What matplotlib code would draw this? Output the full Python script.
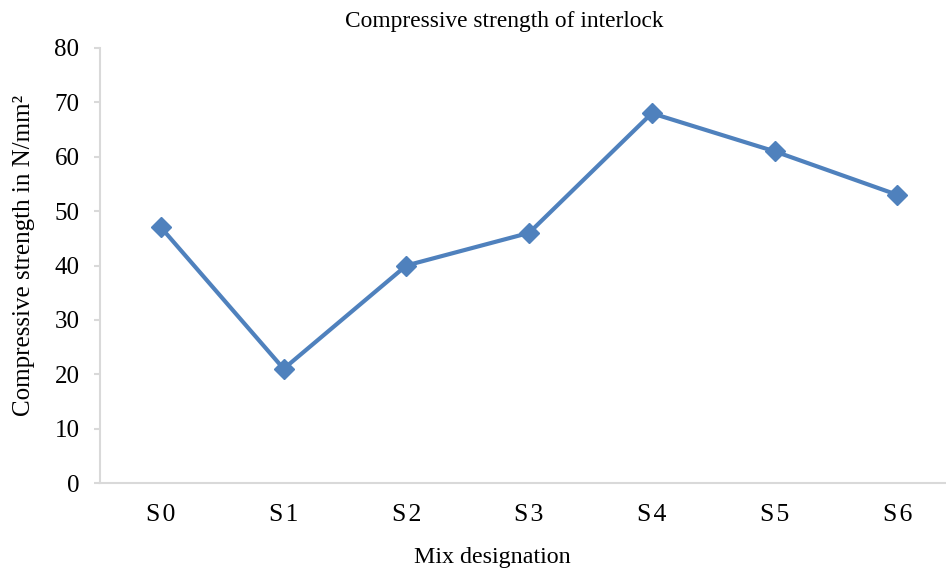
import matplotlib
matplotlib.use('Agg')
import matplotlib.pyplot as plt

# Mix designations and measured compressive strength (N/mm2)
mixes = ['S\u200a0', 'S\u200a1', 'S\u200a2', 'S\u200a3', 'S\u200a4', 'S\u200a5', 'S\u200a6']
strength = [47, 21, 40, 46, 68, 61, 53]

plt.rcParams['font.family'] = ['Liberation Serif', 'DejaVu Serif']

fig = plt.figure(figsize=(9.46, 5.74), dpi=100)
# plot area runs past the right edge of the figure
ax = fig.add_axes([99.6 / 946, 1 - 483 / 574, 859 / 946, 435 / 574])

x = range(len(mixes))
ax.plot(x, strength, color='#4F81BD', linewidth=3, marker='D', markersize=10.5,
        markeredgecolor='#4F81BD', markerfacecolor='#4F81BD')

ax.set_xlim(-0.5, len(mixes) - 0.5)
ax.set_ylim(0, 80)
ax.set_yticks(range(0, 81, 10))
ax.set_xticks(list(x))
ax.set_xticklabels(mixes)

for side in ['top', 'right']:
    ax.spines[side].set_visible(False)
for side in ['left', 'bottom']:
    ax.spines[side].set_color('#D9D9D9')
    ax.spines[side].set_linewidth(1.5)

ax.tick_params(axis='y', direction='out', length=4.5, width=1.5, color='#D9D9D9',
               labelsize=18, pad=10)
ax.tick_params(axis='x', length=0, labelsize=18.5, pad=15)

ax.set_ylabel('Compressive strength in N/mm²', fontsize=18)
ax.yaxis.set_label_coords(-0.075, 0.524)
ax.set_xlabel('Mix designation', fontsize=17.3)
ax.xaxis.set_label_coords(0.457, -0.147)
fig.text(504 / 946, 1 - 21 / 574, 'Compressive strength of interlock',
         fontsize=16.8, ha='center', va='center')

fig.savefig('out.png', dpi=100)
